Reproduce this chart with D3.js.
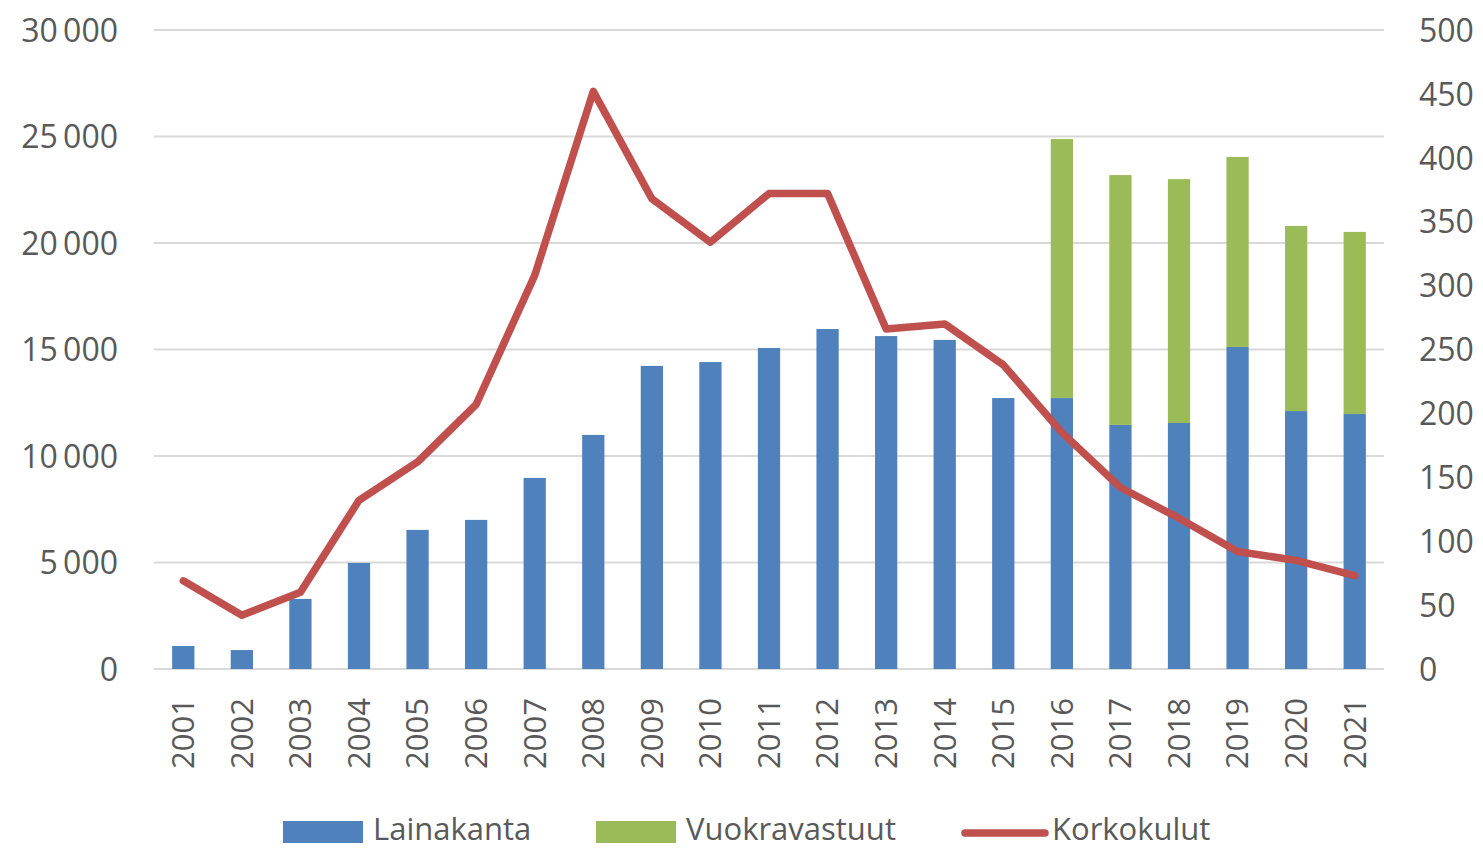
<!DOCTYPE html>
<html lang="fi">
<head>
<meta charset="UTF-8">
<title>Lainakanta, vuokravastuut ja korkokulut</title>
<script src="https://cdn.jsdelivr.net/npm/d3@7"></script>
<style>
    body{ margin:0; background:#fff; }
    text{ font-family:"Open Sans", sans-serif; fill:#595959; }
    .tick text{ font-size:32px; }
    .year{ font-size:31px; }
    .legend text{ font-size:31px; }
</style>
</head>
<body>
<div id="chart"></div>
<script>
    // data
    const years = ["2001","2002","2003","2004","2005","2006","2007","2008","2009","2010","2011",
                   "2012","2013","2014","2015","2016","2017","2018","2019","2020","2021"];
    const lainakanta = [1080,890,3290,4980,6530,7000,8970,10990,14230,14410,15070,
                        15960,15630,15450,12720,12720,11460,11550,15120,12110,11970];
    const vuokravastuut = [0,0,0,0,0,0,0,0,0,0,0,
                           0,0,0,0,12160,11730,11450,8920,8690,8550];
    const korkokulut = [69,42,60,132,162,207,308,452,368,334,372,
                        372,266,270,238,185,142,118,92,85,73];
    const leftTicks = [0,5000,10000,15000,20000,25000,30000];
    const rightTicks = [0,50,100,150,200,250,300,350,400,450,500];

    const width = 1483, height = 849;
    const plot = {left:154, right:1384, top:30, bottom:669};
    const colors = {laina:"#4f81bd", vuokra:"#9bbb59", korko:"#c0504d"};

    const svg = d3.select("#chart").append("svg")
        .attr("width", width).attr("height", height);

    const x = d3.scaleBand().domain(years)
        .range([plot.left, plot.right])
        .paddingInner(0.62).paddingOuter(0.31);
    const yL = d3.scaleLinear().domain([0,30000]).range([plot.bottom, plot.top]);
    const yR = d3.scaleLinear().domain([0,500]).range([plot.bottom, plot.top]);

    const fmt = v => d3.format(",")(v).replace(/,/g, "\u2009");

    // gridlines
    svg.append("g").selectAll("line").data(leftTicks).join("line")
        .attr("x1", plot.left).attr("x2", plot.right)
        .attr("y1", d => yL(d)).attr("y2", d => yL(d))
        .attr("stroke", "#d9d9d9").attr("stroke-width", 2);

    // left axis
    const gL = svg.append("g").attr("transform", `translate(${plot.left},0)`)
        .call(d3.axisLeft(yL).tickValues(leftTicks).tickFormat(fmt).tickSize(0).tickPadding(36));
    gL.select(".domain").remove();
    gL.selectAll("text").attr("dy", "0.35em");

    // right axis
    const gR = svg.append("g").attr("transform", `translate(${plot.right},0)`)
        .call(d3.axisRight(yR).tickValues(rightTicks).tickSize(0).tickPadding(35));
    gR.select(".domain").remove();
    gR.selectAll("text").attr("dy", "0.35em");

    // stacked bars
    const stackData = years.map((y,i) => ({year:y, laina:lainakanta[i], vuokra:vuokravastuut[i]}));
    const series = d3.stack().keys(["laina","vuokra"])(stackData);
    svg.append("g").selectAll("g").data(series).join("g")
        .attr("fill", d => colors[d.key])
        .selectAll("rect").data(d => d.filter(p => p[1] > p[0])).join("rect")
        .attr("x", d => x(d.data.year))
        .attr("width", x.bandwidth())
        .attr("y", d => yL(d[1]))
        .attr("height", d => yL(d[0]) - yL(d[1]));

    // line
    const line = d3.line()
        .x((d,i) => x(years[i]) + x.bandwidth()/2)
        .y(d => yR(d));
    svg.append("path").datum(korkokulut)
        .attr("d", line)
        .attr("fill", "none")
        .attr("stroke", colors.korko)
        .attr("stroke-width", 7.5)
        .attr("stroke-linejoin", "round")
        .attr("stroke-linecap", "round");

    // year labels
    svg.append("g").selectAll("text").data(years).join("text")
        .attr("class", "year")
        .attr("transform", d => `translate(${x(d) + x.bandwidth()/2},${698}) rotate(-90)`)
        .attr("text-anchor", "end")
        .attr("dy", "0.35em")
        .text(d => d);

    // legend
    const legend = svg.append("g").attr("class", "legend");
    const items = [
        {name:"Lainakanta", type:"rect", color:colors.laina, x:283},
        {name:"Vuokravastuut", type:"rect", color:colors.vuokra, x:596},
        {name:"Korkokulut", type:"line", color:colors.korko, x:963}
    ];
    items.forEach(it => {
        const g = legend.append("g").attr("transform", `translate(${it.x},831)`);
        if (it.type === "rect") {
            g.append("rect").attr("x", 0).attr("y", -10).attr("width", 80).attr("height", 22).attr("fill", it.color);
            g.append("text").attr("x", 90).attr("dy", "0.3em").text(it.name);
        } else {
            g.append("line").attr("x1", 2).attr("x2", 82).attr("y1", 2).attr("y2", 2)
                .attr("stroke", it.color).attr("stroke-width", 7.5).attr("stroke-linecap", "round");
            g.append("text").attr("x", 89).attr("dy", "0.3em").text(it.name);
        }
    });
</script>
</body>
</html>
